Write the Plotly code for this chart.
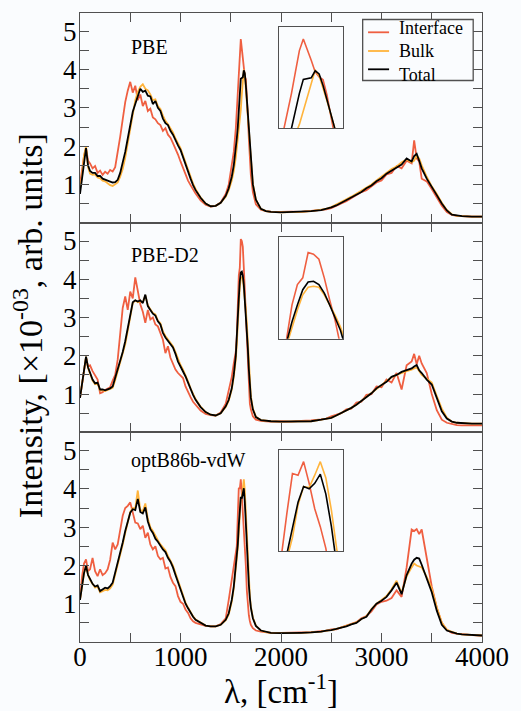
import plotly.graph_objects as go

# ---------------------------------------------------------------- data
wavenumber = [
    0, 20, 40, 60, 80, 100,
    125, 150, 175, 200, 225, 250, 275, 300, 325, 350,
    375, 400, 425, 450, 475, 500, 525, 550, 575, 600,
    625, 650, 675, 700, 725, 750, 775, 800, 825, 850,
    875, 900, 925, 950, 975, 1000, 1025, 1050, 1075, 1100,
    1125, 1150,
    1200, 1250, 1300, 1350, 1400, 1450,
    1480, 1510, 1530, 1550,
    1560, 1570, 1580, 1590, 1600, 1610, 1620, 1630, 1640, 1650, 1660, 1670, 1680, 1690, 1700,
    1720, 1750, 1800, 1850, 1900,
    2000, 2100, 2200, 2300, 2400,
    2450, 2500, 2550, 2600, 2650, 2700, 2750, 2800, 2850, 2900, 2950, 3000, 3050, 3100, 3150, 3200, 3250, 3300,
    3325, 3350, 3375, 3400,
    3450, 3500, 3550, 3600, 3650, 3700, 3750, 3800,
    3900, 4000,
]

# PBE
pbe_interface = [
    1.0, 1.35, 1.75, 1.95, 1.62, 1.55,
    1.42, 1.48, 1.3, 1.36, 1.25, 1.33, 1.28, 1.38, 1.34, 1.45,
    1.8, 2.25, 2.7, 3.15, 3.45, 3.68, 3.4, 3.58, 3.2, 3.35,
    3.05, 3.18, 2.92, 2.98, 2.75, 2.7, 2.6, 2.55, 2.4, 2.47,
    2.3, 2.22, 2.08, 1.95, 1.78, 1.6, 1.42, 1.25, 1.1, 0.98,
    0.85, 0.76,
    0.58, 0.47, 0.42, 0.44, 0.53, 0.75,
    1.0, 1.45, 1.85, 2.45,
    2.9, 3.4, 3.95, 4.5, 4.8, 4.55, 4.25, 3.95, 3.82, 3.75, 3.35, 2.8, 2.2, 1.7, 1.25,
    0.8, 0.48, 0.34, 0.3, 0.29,
    0.28, 0.29, 0.28, 0.31, 0.33,
    0.35, 0.38, 0.45, 0.5, 0.56, 0.64, 0.7, 0.8, 0.85, 0.95, 1.05, 1.1, 1.26, 1.3, 1.48, 1.42, 1.62, 1.55,
    2.15, 1.68, 1.6, 1.15,
    1.08, 0.88, 0.66, 0.44, 0.28, 0.2, 0.18, 0.17,
    0.16, 0.16,
]
pbe_bulk = [
    0.9, 1.2, 1.75, 2.0, 1.45, 1.28,
    1.25, 1.26, 1.18, 1.16, 1.1, 1.08, 1.03, 0.98, 0.96, 1.0,
    1.05, 1.2, 1.4, 1.7, 2.1, 2.5, 2.85, 3.2, 3.42, 3.55,
    3.62, 3.5, 3.46, 3.35, 3.2, 3.22, 3.05, 2.97, 2.8, 2.66,
    2.57, 2.46, 2.36, 2.2, 2.06, 1.95, 1.76, 1.56, 1.4, 1.2,
    1.02, 0.88,
    0.66, 0.5, 0.43, 0.44, 0.52, 0.68,
    0.85, 1.1, 1.35, 1.7,
    1.95, 2.15, 2.35, 2.6, 2.95, 3.35, 3.7, 4.0, 3.85, 3.55, 3.2, 2.85, 2.45, 2.05, 1.6,
    1.02, 0.6, 0.36, 0.3, 0.28,
    0.27, 0.27, 0.28, 0.3, 0.33,
    0.36, 0.41, 0.47, 0.54, 0.61, 0.68, 0.76, 0.83, 0.92, 1.0, 1.1, 1.2, 1.3, 1.4, 1.47, 1.58, 1.65, 1.58,
    1.62, 1.75, 1.68, 1.5,
    1.2, 0.95, 0.75, 0.52, 0.33, 0.22, 0.18, 0.17,
    0.16, 0.16,
]
pbe_total = [
    0.75, 1.15, 1.65, 1.95, 1.5, 1.35,
    1.3, 1.3, 1.22, 1.22, 1.15, 1.12, 1.1, 1.07, 1.05, 1.06,
    1.12, 1.3, 1.55, 1.85, 2.2, 2.6, 2.9, 3.1, 3.3, 3.5,
    3.42, 3.45, 3.32, 3.3, 3.1, 3.18, 3.0, 2.92, 2.72, 2.6,
    2.55, 2.4, 2.3, 2.15, 2.02, 1.9, 1.7, 1.52, 1.35, 1.15,
    0.98, 0.85,
    0.65, 0.5, 0.43, 0.44, 0.52, 0.7,
    0.9, 1.2, 1.5, 1.9,
    2.2, 2.5, 2.95, 3.4, 3.76, 3.78, 3.8, 3.98, 3.9, 3.6, 3.2, 2.85, 2.45, 2.05, 1.55,
    1.0, 0.6, 0.36, 0.3, 0.28,
    0.27, 0.28, 0.28, 0.3, 0.33,
    0.36, 0.4, 0.45, 0.52, 0.58, 0.66, 0.72, 0.8, 0.9, 0.97, 1.08, 1.16, 1.28, 1.36, 1.45, 1.52, 1.68, 1.6,
    1.74, 1.8, 1.62, 1.42,
    1.15, 0.92, 0.72, 0.5, 0.32, 0.21, 0.18, 0.17,
    0.16, 0.16,
]

# PBE-D2
d2_interface = [
    0.9, 1.3, 1.7, 1.95, 1.72, 1.75,
    1.6, 1.5, 1.38, 1.02, 1.05, 1.11, 1.14, 1.18, 1.35, 1.5,
    1.9, 2.5, 3.25, 3.55, 3.2, 3.68, 3.5, 4.05, 3.7, 3.35,
    3.15, 2.86, 3.2, 2.95, 3.0, 2.82, 2.77, 2.6, 2.42, 2.07,
    2.25, 1.95, 1.8, 1.64, 1.55, 1.48, 1.42, 1.2, 1.05, 0.92,
    0.8, 0.72,
    0.57, 0.48, 0.45, 0.44, 0.52, 0.75,
    1.1, 1.45, 1.8, 2.1,
    2.5, 3.5, 4.1, 4.3, 5.05, 5.0, 4.85, 4.3, 3.65, 3.05, 2.3, 1.6, 1.05, 0.75, 0.6,
    0.42, 0.33, 0.3, 0.29, 0.28,
    0.29, 0.28, 0.3, 0.31, 0.34,
    0.36, 0.42, 0.46, 0.5, 0.6, 0.62, 0.78, 0.8, 0.98, 1.0, 1.2, 1.18, 1.38, 1.3, 1.55, 1.12, 1.75, 1.85,
    2.05, 1.78, 2.0, 1.8,
    1.55, 1.0, 0.58, 0.33, 0.25, 0.21, 0.19, 0.18,
    0.18, 0.18,
]
d2_bulk = [
    0.9, 1.3, 1.7, 1.98, 1.68, 1.52,
    1.35, 1.26, 1.28, 1.1, 1.1, 1.08, 1.1, 1.12, 1.16, 1.36,
    1.6, 1.85, 2.05, 2.3, 2.65, 3.0, 3.38, 3.45, 3.4, 3.42,
    3.4, 3.58, 3.32, 3.22, 3.12, 3.08, 2.92, 2.85, 2.64, 2.52,
    2.44, 2.34, 2.25, 2.1, 1.9, 1.76, 1.64, 1.5, 1.33, 1.15,
    1.0, 0.87,
    0.67, 0.53, 0.46, 0.44, 0.5, 0.66,
    0.83, 1.12, 1.45, 1.9,
    2.3, 2.85, 3.35, 3.8, 4.02, 4.05, 4.02, 3.8, 3.5, 3.2, 2.85, 2.3, 1.75, 1.3, 0.95,
    0.62, 0.41, 0.32, 0.3, 0.29,
    0.28, 0.28, 0.29, 0.29, 0.33,
    0.36, 0.38, 0.44, 0.5, 0.58, 0.64, 0.72, 0.82, 0.93, 1.02, 1.14, 1.24, 1.32, 1.44, 1.5, 1.56, 1.6, 1.64,
    1.66, 1.7, 1.6, 1.5,
    1.4, 1.3, 0.95, 0.62, 0.38, 0.28, 0.25, 0.24,
    0.23, 0.23,
]
d2_total = [
    0.9, 1.3, 1.7, 1.98, 1.7, 1.55,
    1.38, 1.28, 1.3, 1.12, 1.12, 1.1, 1.12, 1.15, 1.2, 1.42,
    1.65, 1.9, 2.1, 2.38, 2.7, 3.03, 3.4, 3.45, 3.42, 3.45,
    3.38, 3.6, 3.3, 3.2, 3.1, 3.05, 2.9, 2.82, 2.6, 2.48,
    2.4, 2.3, 2.22, 2.05, 1.85, 1.72, 1.6, 1.46, 1.3, 1.12,
    0.98, 0.85,
    0.66, 0.53, 0.46, 0.44, 0.5, 0.68,
    0.85, 1.15, 1.5, 2.0,
    2.4, 3.0, 3.5, 3.95, 4.18, 4.2, 4.1, 3.85, 3.5, 3.15, 2.75, 2.2, 1.65, 1.2, 0.9,
    0.6, 0.4, 0.32, 0.3, 0.29,
    0.28, 0.28, 0.29, 0.29, 0.33,
    0.36, 0.38, 0.44, 0.5, 0.58, 0.64, 0.72, 0.82, 0.93, 1.02, 1.15, 1.24, 1.32, 1.45, 1.5, 1.58, 1.62, 1.67,
    1.72, 1.76, 1.62, 1.55,
    1.38, 1.25, 0.9, 0.55, 0.36, 0.28, 0.25, 0.24,
    0.23, 0.23,
]

# optB86b-vdW
vdw_interface = [
    1.1, 1.7, 2.05, 2.16, 1.85, 1.9,
    2.2, 1.85, 1.72, 1.9, 1.75, 1.8, 1.9, 2.15, 2.6, 2.42,
    2.55, 2.95, 3.3, 3.5, 3.56, 3.65, 3.35, 3.12, 3.1, 2.95,
    3.04, 2.72, 2.86, 2.55, 2.42, 2.5, 2.25, 2.16, 2.2, 1.92,
    1.95, 1.7, 1.55, 1.46, 1.2, 1.05, 1.0, 0.85, 0.76, 0.62,
    0.54, 0.5,
    0.46, 0.42, 0.41, 0.41, 0.47, 0.62,
    1.1, 1.6, 2.0, 2.35,
    2.5, 3.3, 4.03, 4.0, 4.25, 3.85, 3.38, 3.05, 2.65, 2.0, 1.35, 0.95, 0.7, 0.55, 0.45,
    0.36, 0.3, 0.27, 0.25, 0.24,
    0.24, 0.24, 0.25, 0.26, 0.28,
    0.3, 0.33, 0.33, 0.38, 0.42, 0.48, 0.52, 0.62, 0.68, 0.8, 0.98, 1.05, 1.08, 1.15, 1.35, 1.18, 1.95, 2.94,
    2.9, 2.95, 2.82, 2.94,
    2.2, 1.45, 0.9, 0.5, 0.32, 0.24, 0.22, 0.2,
    0.18, 0.17,
]
vdw_bulk = [
    1.1, 1.5, 1.8, 2.0, 1.75, 1.62,
    1.5, 1.42, 1.45, 1.3, 1.33, 1.36, 1.35, 1.4, 1.5, 1.75,
    2.05, 2.3, 2.55, 2.85, 3.15, 3.4, 3.5, 3.5, 3.96, 3.45,
    3.42, 3.62, 3.22, 3.0, 2.9, 2.76, 2.66, 2.55, 2.46, 2.4,
    2.25, 2.14, 2.0, 1.8, 1.6, 1.4, 1.2, 1.03, 0.9, 0.78,
    0.67, 0.59,
    0.5, 0.43, 0.41, 0.41, 0.45, 0.57,
    0.72, 1.05, 1.4, 1.85,
    2.2, 2.45, 2.85, 3.45, 3.79, 3.77, 4.0, 4.25, 3.95, 3.35, 2.6, 1.95, 1.55, 1.2, 0.93,
    0.64, 0.43, 0.3, 0.26, 0.24,
    0.23, 0.23, 0.24, 0.25, 0.27,
    0.3, 0.31, 0.34, 0.37, 0.42, 0.47, 0.51, 0.6, 0.67, 0.86, 1.0, 1.1, 1.2, 1.38, 1.6, 1.28, 1.72, 1.95,
    2.05, 2.0, 1.98, 1.95,
    1.7, 1.4, 0.9, 0.5, 0.32, 0.26, 0.22, 0.2,
    0.18, 0.17,
]
vdw_total = [
    1.1, 1.5, 1.8, 1.99, 1.75, 1.65,
    1.52, 1.45, 1.48, 1.33, 1.38, 1.42, 1.4, 1.46, 1.55, 1.8,
    2.1, 2.35, 2.6, 2.9, 3.15, 3.38, 3.47, 3.45, 3.74, 3.4,
    3.36, 3.52, 3.15, 2.95, 2.85, 2.7, 2.62, 2.5, 2.42, 2.35,
    2.2, 2.1, 1.95, 1.75, 1.55, 1.35, 1.17, 1.0, 0.88, 0.76,
    0.66, 0.58,
    0.5, 0.43, 0.41, 0.41, 0.45, 0.58,
    0.75, 1.1, 1.45, 1.95,
    2.3, 2.55, 3.05, 3.5, 3.79, 3.75, 3.85, 4.02, 3.65, 3.05, 2.3, 1.85, 1.5, 1.15, 0.9,
    0.62, 0.42, 0.3, 0.26, 0.24,
    0.23, 0.23, 0.24, 0.25, 0.27,
    0.3, 0.31, 0.34, 0.37, 0.41, 0.46, 0.5, 0.6, 0.66, 0.85, 1.0, 1.08, 1.18, 1.35, 1.55, 1.25, 1.75, 2.05,
    2.15, 2.2, 2.18, 2.02,
    1.65, 1.3, 0.82, 0.45, 0.3, 0.25, 0.22, 0.2,
    0.18, 0.17,
]

panel_labels = ["PBE", "PBE-D2", "optB86b-vdW"]
series_names = ["Interface", "Bulk", "Total"]
x_ticks = [0, 1000, 2000, 3000, 4000]
y_ticks = [1, 2, 3, 4, 5]

# ---------------------------------------------------------------- styling
W, H = 521, 711
ML, MR, MT, MB = 80, 30, 13, 69
PW = W - ML - MR
PH = H - MT - MB

FONT = "Liberation Serif, Times New Roman, serif"
FRAME = "#505050"
BG = "#fafcfe"
COLORS = {"Interface": "#ef5f41", "Bulk": "#ffb43c", "Total": "#000000"}


def px_x(px):
    return (px - ML) / PW


def px_y(py):
    return (H - MB - py) / PH


panels = [
    dict(label=panel_labels[0], data=[pbe_interface, pbe_bulk, pbe_total],
         domain=[2 / 3, 1], label_py=47,
         inset_box=(283.3, 27.3, 348.7, 128.3), inset_x=[1538, 1700], inset_y=[2.5, 5.1]),
    dict(label=panel_labels[1], data=[d2_interface, d2_bulk, d2_total],
         domain=[1 / 3, 2 / 3], label_py=255,
         inset_box=(283.0, 237.3, 349.0, 338.7), inset_x=[1545, 1665], inset_y=[2.5, 5.5]),
    dict(label=panel_labels[2], data=[vdw_interface, vdw_bulk, vdw_total],
         domain=[0, 1 / 3], label_py=461,
         inset_box=(283.0, 450.3, 349.0, 551.0), inset_x=[1555, 1671], inset_y=[2.6, 4.46]),
]

for p in panels:
    for s in p["data"]:
        if len(s) != len(wavenumber):
            raise ValueError(f"{p['label']}: {len(s)} values for {len(wavenumber)} points")

fig = go.Figure()
layout = dict(
    width=W, height=H,
    margin=dict(l=ML, r=MR, t=MT, b=MB),
    paper_bgcolor=BG, plot_bgcolor=BG,
    showlegend=False,
    font=dict(family=FONT, color="black"),
)

annotations = []
shapes = []

for i, p in enumerate(panels):
    k = i + 1
    xs = "" if k == 1 else str(k)
    for name, ys in zip(series_names, p["data"]):
        fig.add_trace(go.Scatter(
            x=wavenumber, y=ys, mode="lines", name=name,
            line=dict(color=COLORS[name], width=1.8),
            xaxis="x" + xs, yaxis="y" + xs, hoverinfo="skip",
        ))
    layout["xaxis" + xs] = dict(
        domain=[0, 1], anchor="y" + xs, range=[0, 4000],
        tickvals=x_ticks, ticks="inside", ticklen=9, tickwidth=1.2, tickcolor=FRAME,
        minor=dict(dtick=500, tick0=0, ticks="inside", ticklen=9, tickwidth=1.2, tickcolor=FRAME),
        showline=True, linecolor=FRAME, linewidth=1.3, mirror="ticks",
        showgrid=False, zeroline=False,
        showticklabels=(k == 3), ticklabelstandoff=-10,
        tickfont=dict(size=27, family=FONT, color="black"),
    )
    layout["yaxis" + xs] = dict(
        domain=p["domain"], anchor="x" + xs, range=[0, 5.48],
        tickvals=y_ticks, ticks="inside", ticklen=9, tickwidth=1.2, tickcolor=FRAME,
        minor=dict(tickvals=[0.5, 1.5, 2.5, 3.5, 4.5], ticks="inside", ticklen=9,
                   tickwidth=1.2, tickcolor=FRAME),
        showline=True, linecolor=FRAME, linewidth=1.3, mirror="ticks",
        showgrid=False, zeroline=False, ticklabelstandoff=-3,
        tickfont=dict(size=27, family=FONT, color="black"),
    )

    # zoomed view of the main peak
    j = str(k + 3)
    x0, y0, x1, y1 = p["inset_box"]
    for name, ys in zip(series_names, p["data"]):
        fig.add_trace(go.Scatter(
            x=wavenumber, y=ys, mode="lines", name=name,
            line=dict(color=COLORS[name], width=1.6),
            xaxis="x" + j, yaxis="y" + j, hoverinfo="skip",
        ))
    layout["xaxis" + j] = dict(
        domain=[px_x(x0), px_x(x1)], anchor="y" + j, range=p["inset_x"],
        showline=True, linecolor=FRAME, linewidth=1.3, mirror=True,
        ticks="", showticklabels=False, showgrid=False, zeroline=False,
    )
    layout["yaxis" + j] = dict(
        domain=[px_y(y1), px_y(y0)], anchor="x" + j, range=p["inset_y"],
        showline=True, linecolor=FRAME, linewidth=1.3, mirror=True,
        ticks="", showticklabels=False, showgrid=False, zeroline=False,
    )

    annotations.append(dict(
        text=p["label"], xref="paper", yref="paper",
        x=px_x(130.5), y=px_y(p["label_py"]), xanchor="left", yanchor="middle",
        showarrow=False, font=dict(size=20, family=FONT, color="black"),
    ))

# legend box in the top panel
lx0, ly0, lx1, ly1 = 369, 19.5, 482, 80.5
shapes.append(dict(type="rect", xref="paper", yref="paper",
                   x0=px_x(lx0), x1=px_x(lx1), y0=px_y(ly1), y1=px_y(ly0),
                   line=dict(color=FRAME, width=1.3), fillcolor=BG, layer="above"))
legend_rows = [32.3, 51.0, 69.3]
for name, ly in zip(series_names, legend_rows):
    shapes.append(dict(type="line", xref="paper", yref="paper",
                       x0=px_x(374.5), x1=px_x(396), y0=px_y(ly), y1=px_y(ly),
                       line=dict(color=COLORS[name], width=1.8), layer="above"))
# legend labels as one text block with tight line spacing
annotations.append(dict(
    text="<br>".join(f"<span style='line-height:18px'>{n}</span>" for n in series_names),
    xref="paper", yref="paper",
    x=px_x(404), y=px_y((legend_rows[0] + legend_rows[-1]) / 2 + 0.5),
    xanchor="left", yanchor="middle", align="left",
    showarrow=False, font=dict(size=18, family=FONT, color="black"),
))

# axis titles
annotations.append(dict(
    text="Intensity, [×10<sup>-03</sup>, arb. units]",
    xref="paper", yref="paper", x=px_x(27), y=px_y(326), xanchor="center", yanchor="middle",
    textangle=-90, showarrow=False, font=dict(size=34, family=FONT, color="black"),
))
annotations.append(dict(
    text="λ, [cm<sup>-1</sup>]",
    xref="paper", yref="paper", x=px_x(286), y=px_y(689), xanchor="center", yanchor="middle",
    showarrow=False, font=dict(size=33, family=FONT, color="black"),
))

layout["annotations"] = annotations
layout["shapes"] = shapes
fig.update_layout(**layout)

fig.write_html("out.html")
